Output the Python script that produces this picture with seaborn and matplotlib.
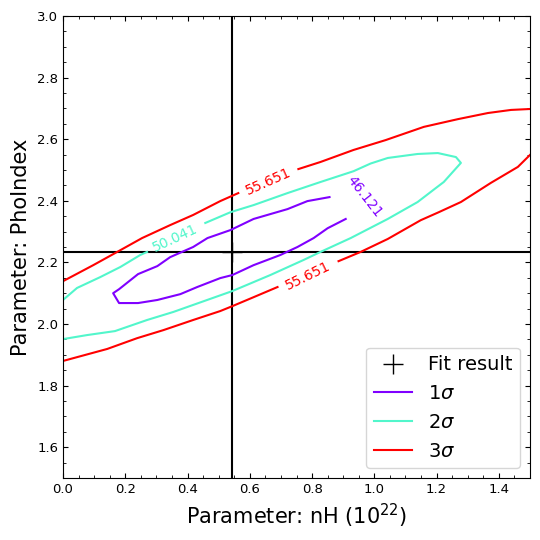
import pandas as pd
import matplotlib.pyplot as plt
from matplotlib.lines import Line2D
from matplotlib.ticker import AutoMinorLocator
import seaborn as sns

# best fit (nH, PhoIndex)
fit_nh = 0.543
fit_gamma = 2.234

# confidence contours, split where the labels sit
sig1_x = [0.856, 0.785, 0.721, 0.612, 0.538, 0.464, 0.418, 0.344, 0.303, 0.241, 0.180, 0.161,
          0.180, 0.241, 0.303, 0.377, 0.431, 0.505, 0.544, 0.612, 0.698, 0.753, 0.805, 0.850, 0.908]
sig1_y = [2.412, 2.399, 2.373, 2.341, 2.305, 2.279, 2.250, 2.217, 2.188, 2.162, 2.113, 2.100,
          2.068, 2.068, 2.078, 2.097, 2.120, 2.149, 2.159, 2.191, 2.224, 2.250, 2.279, 2.311, 2.341]

sig2a_x = [0.0, 0.045, 0.119, 0.184, 0.248, 0.270]
sig2a_y = [2.078, 2.117, 2.152, 2.185, 2.224, 2.234]
sig2b_x = [0.457, 0.538, 0.612, 0.721, 0.827, 0.933, 0.988, 1.043, 1.139, 1.204, 1.262, 1.278,
           1.223, 1.197, 1.139, 1.043, 0.924, 0.827, 0.773, 0.666, 0.544, 0.354, 0.270, 0.167,
           0.077, 0.0]
sig2b_y = [2.328, 2.363, 2.386, 2.425, 2.461, 2.496, 2.521, 2.539, 2.552, 2.555, 2.542, 2.523,
           2.461, 2.441, 2.396, 2.341, 2.279, 2.234, 2.208, 2.159, 2.107, 2.039, 2.013, 1.977,
           1.964, 1.951]

sig3a_x = [0.0, 0.097, 0.174, 0.254, 0.344, 0.418, 0.505, 0.563]
sig3a_y = [2.139, 2.191, 2.234, 2.279, 2.321, 2.354, 2.399, 2.425]
sig3b_x = [0.756, 0.827, 0.933, 1.036, 1.159, 1.268, 1.365, 1.439, 1.5]
sig3b_y = [2.503, 2.526, 2.565, 2.597, 2.640, 2.665, 2.685, 2.695, 2.698]
sig3c_x = [0.0, 0.142, 0.238, 0.322, 0.418, 0.505, 0.544, 0.612, 0.689]
sig3c_y = [1.880, 1.919, 1.954, 1.980, 2.013, 2.042, 2.058, 2.087, 2.120]
sig3d_x = [0.885, 0.956, 1.043, 1.149, 1.207, 1.278, 1.374, 1.461, 1.5]
sig3d_y = [2.204, 2.234, 2.276, 2.337, 2.363, 2.396, 2.458, 2.510, 2.549]

levels = ['1σ', '2σ', '3σ']
level_values = ['46.121', '50.041', '55.651']
colors = ['#8000ff', '#52f6cb', '#ff0000']

# label placement (x, y, rotation, level index)
label_x = [0.969, 0.360, 0.660, 0.787]
label_y = [2.412, 2.279, 2.461, 2.155]
label_rot = [-52, 25, 24, 26]
label_lev = [0, 1, 2, 2]

segments = [
    (sig1_x, sig1_y, 0),
    (sig2a_x, sig2a_y, 1), (sig2b_x, sig2b_y, 1),
    (sig3a_x, sig3a_y, 2), (sig3b_x, sig3b_y, 2),
    (sig3c_x, sig3c_y, 2), (sig3d_x, sig3d_y, 2),
]
rows = []
for i, (xs, ys, lev) in enumerate(segments):
    for x, y in zip(xs, ys):
        rows.append({'nH': x, 'gamma': y, 'level': levels[lev], 'seg': i})
df = pd.DataFrame(rows)

fig = plt.figure(figsize=(5.4, 5.4), dpi=100)
ax = fig.add_axes([0.1167, 0.1148, 0.8648, 0.8556])

sns.lineplot(data=df, x='nH', y='gamma', hue='level', units='seg', estimator=None,
             sort=False, palette=dict(zip(levels, colors)), lw=1.5, legend=False, ax=ax)

for x, y, r, lev in zip(label_x, label_y, label_rot, label_lev):
    ax.text(x, y, level_values[lev], color=colors[lev], fontsize=10, rotation=r,
            rotation_mode='anchor', ha='center', va='center')

ax.axvline(fit_nh, color='k', lw=1.5, zorder=1)
ax.axhline(fit_gamma, color='k', lw=1.5, zorder=1)
ax.plot([fit_nh], [fit_gamma], marker='+', ms=15, mew=1, color='k', ls='none')

ax.set_xlim(0, 1.5)
ax.set_ylim(1.5, 3.0)
ax.xaxis.set_minor_locator(AutoMinorLocator(4))
ax.yaxis.set_minor_locator(AutoMinorLocator(4))
ax.tick_params(which='both', direction='in', top=True, right=True, labelsize=9.5)
ax.set_xlabel('Parameter: nH (10$^{22}$)', fontsize=15)
ax.set_ylabel('Parameter: PhoIndex', fontsize=15)

handles = [Line2D([], [], marker='+', ms=15, mew=1, color='k', ls='none')]
handles += [Line2D([], [], color=c, lw=1.5) for c in colors]
labels = ['Fit result', r'1$\sigma$', r'2$\sigma$', r'3$\sigma$']
ax.legend(handles, labels, loc='lower right', fontsize=14)

fig.savefig('out.png', dpi=100)
